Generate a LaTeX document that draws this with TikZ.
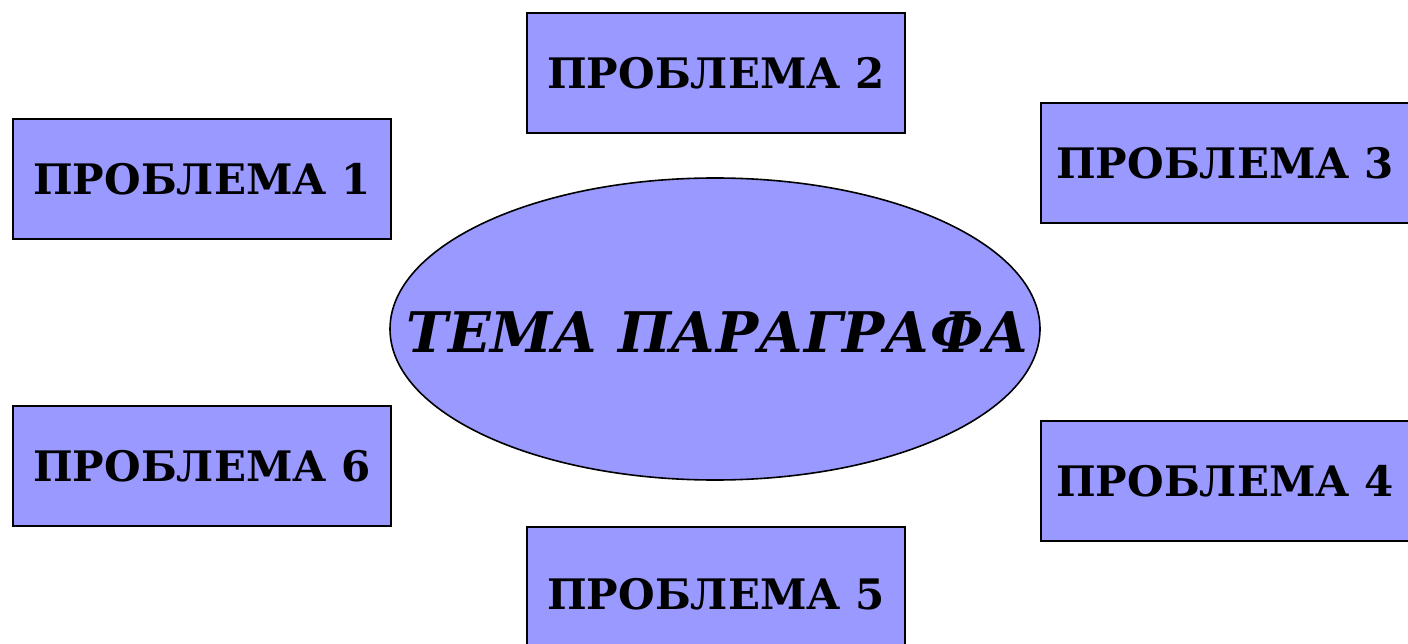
\documentclass[tikz,border=0pt]{standalone}
\usepackage{fontspec}
\setmainfont{DejaVu Serif}
\usetikzlibrary{shapes.geometric}
\definecolor{boxfill}{HTML}{9999FF}
\tikzset{
  probbox/.style={draw=black, line width=2pt, fill=boxfill, minimum width=378pt, minimum height=120pt, inner sep=0pt, font=\fontsize{42}{48}\selectfont\bfseries, anchor=north west},
  topic/.style={draw=black, line width=1.6pt, fill=boxfill, ellipse, minimum width=650pt, minimum height=302pt, inner sep=0pt, font=\fontsize{56}{64}\selectfont\bfseries\itshape}
}
\begin{document}
\begin{tikzpicture}[x=1pt,y=-1pt]
\useasboundingbox (0,0) rectangle (1408,644);
\clip (0,0) rectangle (1408,644);
\node[probbox] (p2) at (526,12) {ПРОБЛЕМА 2};
\node[probbox] (p1) at (12,118) {ПРОБЛЕМА 1};
\node[probbox] (p3) at (1040,102) {\hspace*{-10pt}ПРОБЛЕМА 3};
\node[probbox] (p6) at (12,405) {ПРОБЛЕМА 6};
\node[probbox] (p4) at (1040,420) {\hspace*{-10pt}ПРОБЛЕМА 4};
\node[probbox, minimum height=146pt] (p5) at (526,526) {\raisebox{13pt}{ПРОБЛЕМА 5}};
\node[topic] (t) at (715,329) {\makebox[0pt]{\raisebox{-23pt}[0pt][0pt]{\hspace*{6pt}ТЕМА ПАРАГРАФА}}};
\end{tikzpicture}
\end{document}
